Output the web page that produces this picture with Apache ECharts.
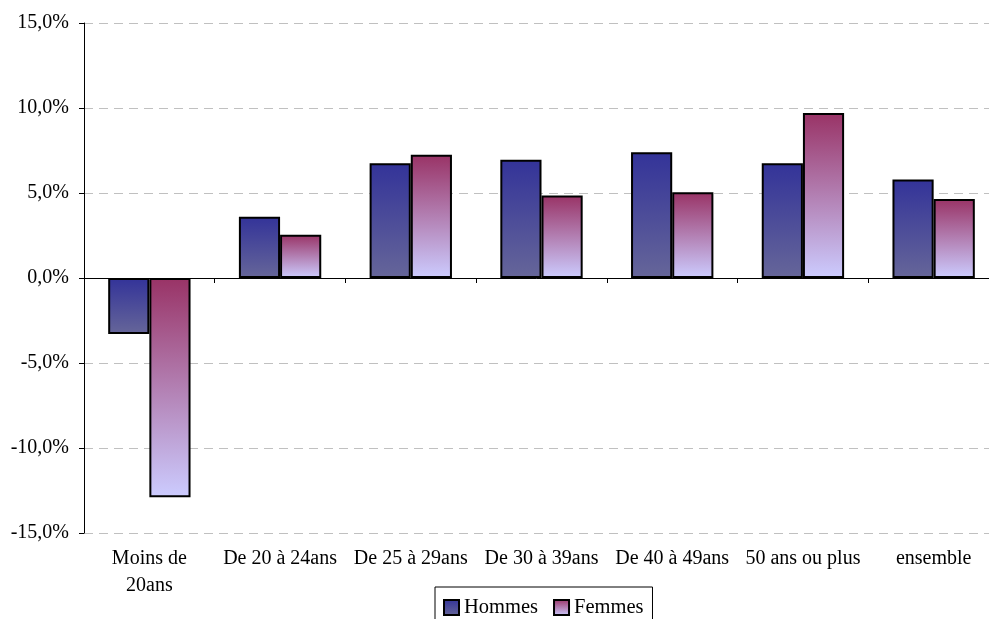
<!DOCTYPE html>
<html>
<head>
<meta charset="UTF-8">
<title></title>
<style>
  html, body { margin: 0; padding: 0; background: #fff; }
</style>
</head>
<body>
<div id="main" style="width: 989px;height:619px;"></div>
<script src="https://cdn.jsdelivr.net/npm/echarts@6/dist/echarts.min.js"></script>
<script>
// categories and values (in %)
var categories = ['Moins de\n20ans', 'De 20 à 24ans', 'De 25 à 29ans', 'De 30 à 39ans', 'De 40 à 49ans', '50 ans ou plus', 'ensemble'];
var hommes = [-3.3, 3.6, 6.75, 6.95, 7.4, 6.75, 5.8];
var femmes = [-12.9, 2.55, 7.25, 4.85, 5.05, 9.7, 4.65];
var seriesNames = ['Hommes', 'Femmes'];

var myChart = echarts.init(document.getElementById('main'));

function grad(top, bottom) {
    return new echarts.graphic.LinearGradient(0, 0, 0, 1, [
        { offset: 0, color: top },
        { offset: 1, color: bottom }
    ]);
}

var font = 'Liberation Serif';

var option = {
    animation: false,
    textStyle: { fontFamily: font },
    grid: { left: 84, top: 23, width: 915, height: 510, containLabel: false, outerBoundsMode: 'none' },
    legend: {
        data: seriesNames,
        left: 435,
        top: 587,
        padding: [10, 9, 14, 8],
        itemGap: 15,
        itemWidth: 15,
        itemHeight: 15,
        icon: 'rect',
        borderColor: '#000',
        borderWidth: 1,
        textStyle: { fontFamily: font, fontSize: 20.5, color: '#000' }
    },
    xAxis: [
        {
            // zero line with ticks between categories
            type: 'category',
            data: categories,
            axisLine: { onZero: true, lineStyle: { color: '#000', width: 1 } },
            axisTick: { show: true, length: 5, lineStyle: { color: '#000' } },
            axisLabel: { show: false }
        },
        {
            // labels at the bottom of the plot
            type: 'category',
            data: categories,
            position: 'bottom',
            axisLine: { show: false, onZero: false },
            axisTick: { show: false },
            axisLabel: {
                interval: 0,
                margin: 12,
                color: '#000',
                fontFamily: font,
                fontSize: 20,
                lineHeight: 27
            }
        }
    ],
    yAxis: {
        type: 'value',
        min: -15,
        max: 15,
        interval: 5,
        axisLine: { show: true, lineStyle: { color: '#000', width: 1 } },
        axisTick: { show: true, length: 5, lineStyle: { color: '#000' } },
        axisLabel: {
            margin: 15,
            color: '#000',
            fontFamily: font,
            fontSize: 20,
            formatter: function (v) { return v.toFixed(1).replace('.', ',') + '%'; }
        },
        splitLine: { show: true, lineStyle: { color: '#c0c0c0', type: [9, 6], width: 1 } }
    },
    series: [
        {
            name: seriesNames[0],
            type: 'bar',
            data: hommes,
            barGap: '0%',
            barCategoryGap: '37%',
            itemStyle: { color: grad('#333399', '#666699'), borderColor: '#000', borderWidth: 2 }
        },
        {
            name: seriesNames[1],
            type: 'bar',
            data: femmes,
            itemStyle: { color: grad('#993366', '#ccccff'), borderColor: '#000', borderWidth: 2 }
        }
    ]
};

myChart.setOption(option);
</script>
</body>
</html>
